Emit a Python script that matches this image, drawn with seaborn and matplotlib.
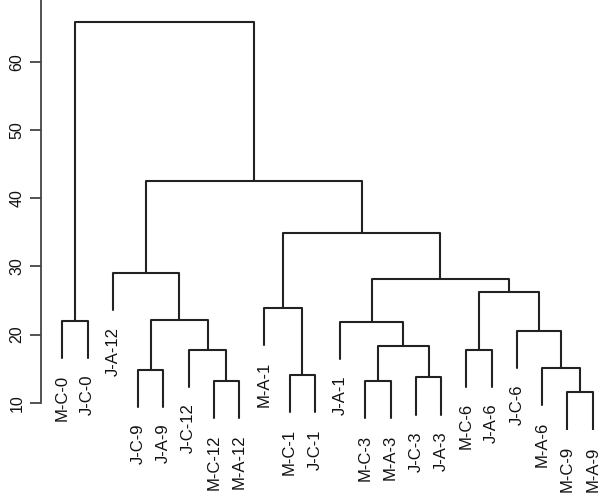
import matplotlib
matplotlib.use("Agg")
import matplotlib.pyplot as plt
import numpy as np
import pandas as pd
import seaborn as sns

# leaf order as drawn, left to right
leaves = ["M-C-0", "J-C-0", "J-A-12", "J-C-9", "J-A-9", "J-C-12", "M-C-12",
          "M-A-12", "M-A-1", "M-C-1", "J-C-1", "J-A-1", "M-C-3", "M-A-3",
          "J-C-3", "J-A-3", "M-C-6", "J-A-6", "J-C-6", "M-A-6", "M-C-9", "M-A-9"]

# merges: a leaf name or the index of an earlier merge, plus the height
merge_a = ["M-C-0", "J-C-9", "M-C-12", "J-C-12", 1, "J-A-12", "M-C-1", "M-A-1",
           "M-C-3", "J-C-3", 8, "J-A-1", "M-C-6", "M-C-9", "M-A-6", "J-C-6",
           12, 11, 7, 5, 0]
merge_b = ["J-C-0", "J-A-9", "M-A-12", 2, 3, 4, "J-C-1", 6,
           "M-A-3", "J-A-3", 9, 10, "J-A-6", "M-A-9", 13, 14,
           15, 16, 17, 18, 19]
merge_h = [22.0, 14.8, 13.2, 17.8, 22.1, 29.0, 14.0, 23.9,
           13.2, 13.7, 18.3, 21.9, 17.8, 11.5, 15.1, 20.5,
           26.3, 28.1, 34.9, 42.6, 65.9]

y_ticks = [10, 20, 30, 40, 50, 60]

hang = 0.1 * (max(merge_h) - min(merge_h))
leaf_x = {name: i for i, name in enumerate(leaves)}
node_x = []
rows = []
leaf_bottom = {}


def child_pos(c, h):
    if isinstance(c, str):
        leaf_bottom[c] = h - hang
        return leaf_x[c], h - hang
    return node_x[c], merge_h[c]


for k, (a, b, h) in enumerate(zip(merge_a, merge_b, merge_h)):
    xa, ya = child_pos(a, h)
    xb, yb = child_pos(b, h)
    for x, y in [(xa, ya), (xa, h), (xb, h), (xb, yb)]:
        rows.append({"seg": k, "x": x, "y": y})
    node_x.append((xa + xb) / 2)

segs = pd.DataFrame(rows)

sns.set_theme(style="ticks")
plt.rcParams["font.family"] = ["Liberation Sans", "DejaVu Sans"]

fig = plt.figure(figsize=(6, 4.95), dpi=100)
ax = fig.add_axes([41.3 / 600, 65 / 495, (600 - 41.3) / 600, 430 / 495])

sns.lineplot(data=segs, x="x", y="y", units="seg", estimator=None, sort=False,
             color="#222222", linewidth=1.5, ax=ax, legend=False)

for name in leaves:
    ax.annotate(name, xy=(leaf_x[name], leaf_bottom[name]), xytext=(0, -12),
                textcoords="offset points", rotation=90, ha="center", va="top",
                fontsize=12, color="#111111", annotation_clip=False)

ax.set_xlim(-0.831, 21.29)
ax.set_ylim(5.99, 69.13)
ax.set_yticks(y_ticks)
ax.set_yticklabels([str(t) for t in y_ticks], rotation=90, va="center",
                   fontsize=11.5, color="#111111")
ax.tick_params(axis="y", length=8, width=1.3, color="#444444", pad=4)
ax.set_xticks([])
ax.set_xlabel("")
ax.set_ylabel("")
for side in ["top", "right", "bottom"]:
    ax.spines[side].set_visible(False)
ax.spines["left"].set_bounds(10, 70)
ax.spines["left"].set_color("#444444")
ax.spines["left"].set_linewidth(1.3)

fig.savefig("out.png", dpi=100)
